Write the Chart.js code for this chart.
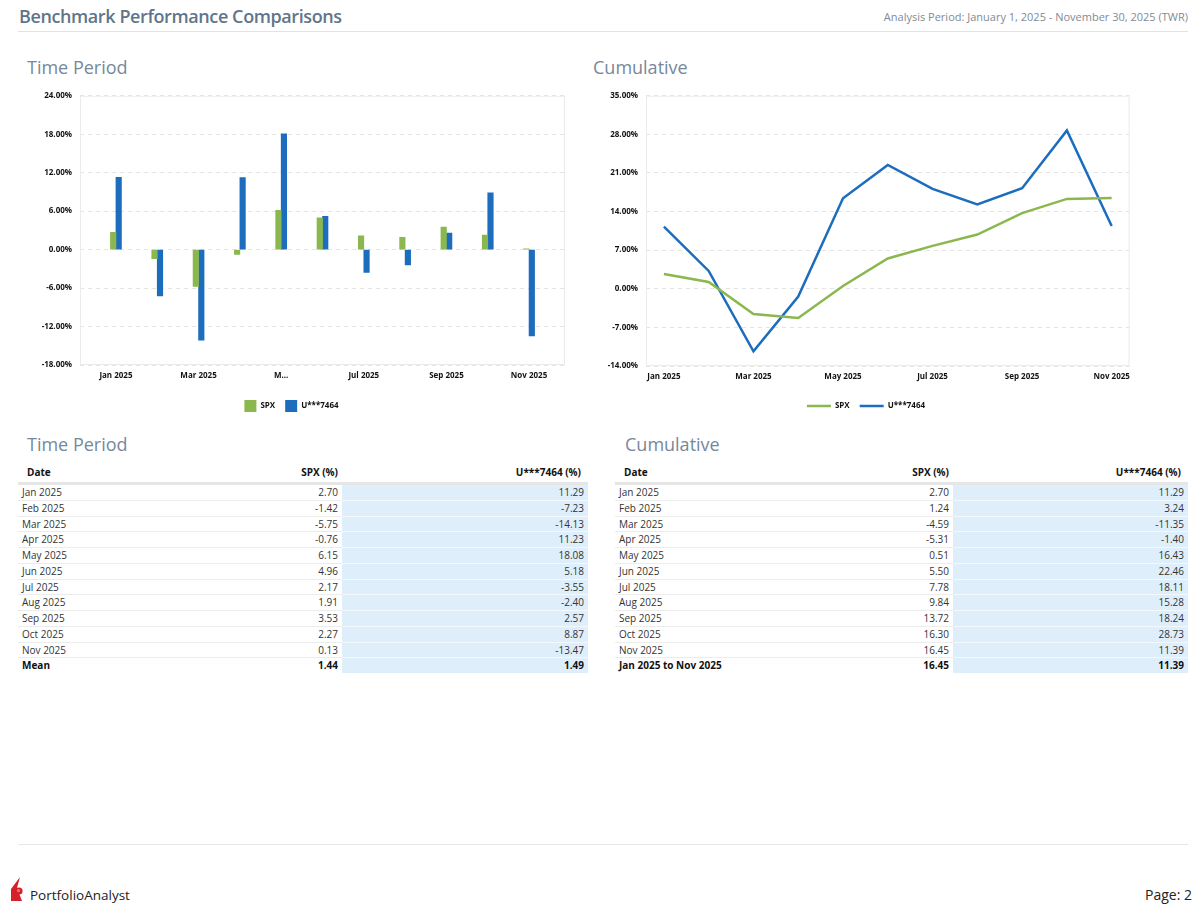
<!DOCTYPE html>
<html>
<head>
<meta charset="utf-8">
<script src="https://cdn.jsdelivr.net/npm/chart.js@4.4.1/dist/chart.umd.min.js"></script>
<style>
  html, body { margin:0; padding:0; background:#fff; }
  body { width:1200px; height:910px; position:relative; font-family:'Open Sans', sans-serif; color:#222; overflow:hidden; }
  .abs { position:absolute; }
  #title { left:19px; top:4px; font-size:18px; font-weight:600; color:#5f758a; letter-spacing:-0.4px; }
  #period { right:12px; top:9px; font-size:11px; color:#7f8b96; }
  #rule { left:18px; top:31px; width:1170px; height:0; border-top:1.5px solid #e3e3e3; }
  .sub { font-size:18px; color:#76889a; font-weight:400; }
  .chartbox { position:absolute; }
  table.t { position:absolute; border-collapse:collapse; font-size:10px; table-layout:fixed; }
  table.t th { font-weight:700; height:20px; padding:0 4px; border-bottom:3px solid #e6e6e6; color:#111; }
  table.t td { height:14.75px; line-height:14.75px; padding:0 4px; border-bottom:1px solid #ececec; color:#333; white-space:nowrap; }
  table.t td.b { background:#dfeefb; border-bottom:1px solid #f3f8fd; }
  table.t tr.last td { font-weight:700; color:#111; border-bottom:none; }
  .l { text-align:left; } .r { text-align:right; }
  #foot { left:18px; top:844px; width:1170px; border-top:1.5px solid #e6e6e6; }
  #brand { left:30px; top:886px; font-size:13.5px; color:#222; }
  #page { right:8px; top:885px; font-size:14px; color:#222; }
</style>
</head>
<body>
<div id="title" class="abs">Benchmark Performance Comparisons</div>
<div id="period" class="abs">Analysis Period: January 1, 2025 - November 30, 2025 (TWR)</div>
<div id="rule" class="abs"></div>

<div class="abs sub" style="left:27px;top:55px;">Time Period</div>
<div class="abs sub" style="left:593px;top:55px;">Cumulative</div>

<div class="chartbox" style="left:18px;top:83px;width:572px;height:339px;"><canvas id="barChart"></canvas></div>
<div class="chartbox" style="left:600px;top:83px;width:536px;height:337px;"><canvas id="lineChart"></canvas></div>

<div class="abs sub" style="left:27px;top:432px;">Time Period</div>
<div class="abs sub" style="left:625px;top:432px;">Cumulative</div>

<table class="t" id="tblPeriod" style="left:18px;top:462px;width:570px;">
  <colgroup><col style="width:170px"><col style="width:154px"><col style="width:246px"></colgroup>
</table>
<table class="t" id="tblCum" style="left:615px;top:462px;width:573px;">
  <colgroup><col style="width:180px"><col style="width:158px"><col style="width:235px"></colgroup>
</table>

<div id="foot" class="abs"></div>
<svg class="abs" style="left:8px;top:876px;" width="22" height="26" viewBox="0 0 22 26">
  <path d="M3 25 L3 13 L12 1 L9 12 L14 25 Z" fill="#d3202b"/>
  <circle cx="11" cy="15" r="3.6" fill="#d3202b"/>
  <circle cx="10.5" cy="14.5" r="1.6" fill="#ff6b6b"/>
</svg>
<div id="brand" class="abs">PortfolioAnalyst</div>
<div id="page" class="abs">Page: 2</div>

<script>
// ---- data ----
const categories = ["Jan 2025","Feb 2025","Mar 2025","Apr 2025","May 2025","Jun 2025","Jul 2025","Aug 2025","Sep 2025","Oct 2025","Nov 2025"];
const spxPeriod = [2.70,-1.42,-5.75,-0.76,6.15,4.96,2.17,1.91,3.53,2.27,0.13];
const acctPeriod = [11.29,-7.23,-14.13,11.23,18.08,5.18,-3.55,-2.40,2.57,8.87,-13.47];
const spxCum = [2.70,1.24,-4.59,-5.31,0.51,5.50,7.78,9.84,13.72,16.30,16.45];
const acctCum = [11.29,3.24,-11.35,-1.40,16.43,22.46,18.11,15.28,18.24,28.73,11.39];
const meanRow = ["Mean", 1.44, 1.49];
const totalRow = ["Jan 2025 to Nov 2025", 16.45, 11.39];
const seriesNames = ["SPX","U***7464"];
const barTickLabels = ["Jan 2025","Mar 2025","M...","Jul 2025","Sep 2025","Nov 2025"];
const lineTickLabels = ["Jan 2025","Mar 2025","May 2025","Jul 2025","Sep 2025","Nov 2025"];
const barYTicks = [-18,-12,-6,0,6,12,18,24];
const lineYTicks = [-14,-7,0,7,14,21,28,35];

const GREEN = '#8ab84e';
const BLUE = '#1c6dbd';
const FONT = "'Open Sans', sans-serif";

// ---- tables ----
function buildTable(id, spx, acct, last) {
  const t = document.getElementById(id);
  let h = '<tr><th class="l" style="padding-left:9px">Date</th><th class="r">' + seriesNames[0] + ' (%)</th><th class="r" style="padding-right:7px">' + seriesNames[1] + ' (%)</th></tr>';
  categories.forEach((c, i) => {
    h += '<tr><td class="l">' + c + '</td><td class="r">' + spx[i].toFixed(2) + '</td><td class="r b">' + acct[i].toFixed(2) + '</td></tr>';
  });
  h += '<tr class="last"><td class="l">' + last[0] + '</td><td class="r">' + last[1].toFixed(2) + '</td><td class="r b">' + last[2].toFixed(2) + '</td></tr>';
  t.insertAdjacentHTML('beforeend', h);
}
buildTable('tblPeriod', spxPeriod, acctPeriod, meanRow);
buildTable('tblCum', spxCum, acctCum, totalRow);

// ---- charts ----
const boxPlugin = {
  id: 'plotBox',
  afterDraw(chart) {
    const a = chart.chartArea, ctx = chart.ctx;
    ctx.save();
    ctx.strokeStyle = '#ebebeb';
    ctx.lineWidth = 1;
    ctx.strokeRect(a.left + 0.5, a.top + 0.5, a.right - a.left - 1, a.bottom - a.top - 1);
    ctx.restore();
  }
};

const tickFont = { family: FONT, size: 8, weight: 'bold' };
const idx = categories.map((c, i) => i);
const evenIdx = idx.filter(i => i % 2 === 0);

function yScale(ticks, width) {
  return {
    type: 'linear',
    min: ticks[0], max: ticks[ticks.length - 1],
    afterBuildTicks: ax => { ax.ticks = ticks.map(v => ({ value: v })); },
    afterFit: ax => { ax.width = width; },
    grid: { color: '#e4e4e4', lineWidth: 1, drawTicks: false },
    border: { display: false, dash: [4, 4] },
    ticks: { font: tickFont, color: '#111', padding: 8, callback: v => v.toFixed(2) + '%' }
  };
}

function xScale(min, max, labels, h) {
  return {
    type: 'linear',
    min: min, max: max,
    offset: false,
    afterBuildTicks: ax => { ax.ticks = evenIdx.map(v => ({ value: v })); },
    afterFit: ax => { ax.height = h; },
    grid: { display: false, offset: false, drawTicks: false },
    border: { display: false },
    ticks: { font: tickFont, color: '#111', padding: 6, maxRotation: 0, autoSkip: false,
             callback: v => labels[evenIdx.indexOf(v)] }
  };
}

new Chart(document.getElementById('barChart'), {
  type: 'bar',
  data: {
    datasets: [
      { label: seriesNames[0], data: spxPeriod.map((v, i) => ({ x: i, y: v })), backgroundColor: GREEN, barThickness: 5.5 },
      { label: seriesNames[1], data: acctPeriod.map((v, i) => ({ x: i, y: v })), backgroundColor: BLUE, barThickness: 5.5 }
    ]
  },
  options: {
    responsive: true, maintainAspectRatio: false, animation: false,
    layout: { padding: { top: 8, right: 25, left: 0, bottom: 0 } },
    scales: { x: xScale(-0.87, 10.87, barTickLabels, 25), y: yScale(barYTicks, 62) },
    plugins: {
      tooltip: { enabled: false },
      legend: { position: 'bottom',
        labels: { boxWidth: 12, boxHeight: 12, padding: 10, color: '#111', font: { family: FONT, size: 8, weight: 'bold' } } }
    }
  },
  plugins: [boxPlugin]
});

new Chart(document.getElementById('lineChart'), {
  type: 'line',
  data: {
    datasets: [
      { label: seriesNames[0], data: spxCum.map((v, i) => ({ x: i, y: v })), borderColor: GREEN, backgroundColor: GREEN, borderWidth: 2.5, pointRadius: 0, pointStyle: 'line', tension: 0 },
      { label: seriesNames[1], data: acctCum.map((v, i) => ({ x: i, y: v })), borderColor: BLUE, backgroundColor: BLUE, borderWidth: 2.5, pointRadius: 0, pointStyle: 'line', tension: 0 }
    ]
  },
  options: {
    responsive: true, maintainAspectRatio: false, animation: false,
    layout: { padding: { top: 8, right: 4, left: 0, bottom: 0 } },
    scales: { x: xScale(-0.4, 10.4, lineTickLabels, 26), y: yScale(lineYTicks, 46) },
    plugins: {
      tooltip: { enabled: false },
      legend: { position: 'bottom',
        labels: { usePointStyle: true, pointStyle: 'line', pointStyleWidth: 24, boxHeight: 8, padding: 10, color: '#111', font: { family: FONT, size: 8, weight: 'bold' } } }
    }
  },
  plugins: [boxPlugin]
});
</script>
</body>
</html>
